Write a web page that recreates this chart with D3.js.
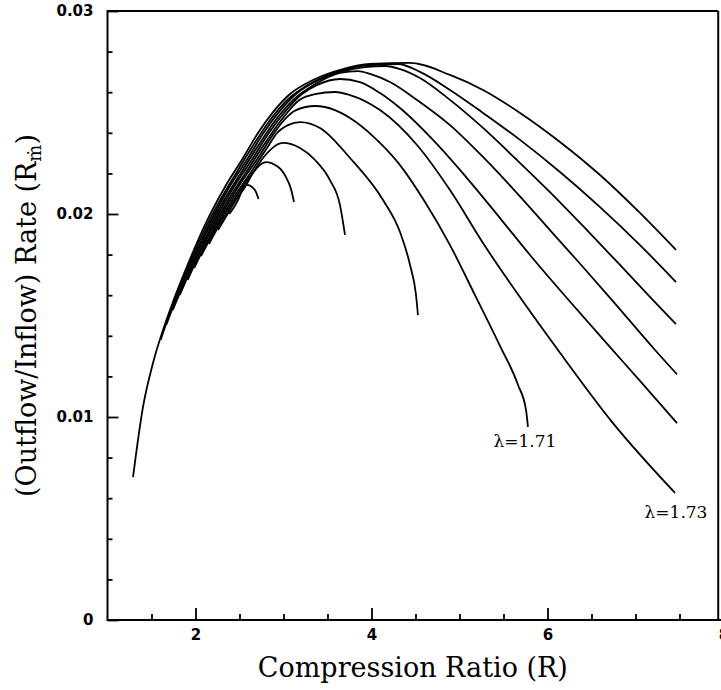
<!DOCTYPE html>
<meta charset="utf-8">
<style>

body{
  margin: 0;
  background: #fff;
}
.axis text {
  font-family: "DejaVu Sans", sans-serif;
  font-weight: bold;
  font-size: 15px;
  fill: #000;
}
.axis line {
  stroke: #000;
  stroke-width: 1.8px;
}
.frame line {
  stroke: #000;
  stroke-width: 2px;
}
.curves path {
  fill: none;
  stroke: #000;
  stroke-width: 1.8px;
}
.title {
  font-family: "DejaVu Serif", serif;
  font-size: 27px;
  fill: #000;
}
.lam {
  font-family: "DejaVu Serif", serif;
  font-size: 17px;
  fill: #000;
}

</style>
<svg width="721" height="690"></svg>
<script src="https://d3js.org/d3.v7.min.js"></script>
<script>

// tick values
var xMajor = [2, 4, 6, 8];
var xMinor = [1.5, 2.5, 3, 3.5, 4.5, 5, 5.5, 6.5, 7, 7.5];
var yMajor = [0, 0.01, 0.02, 0.03];
var yMinor = [0.002, 0.004, 0.006, 0.008, 0.012, 0.014, 0.016, 0.018, 0.022, 0.024, 0.026, 0.028];
var xFrameEnd = 7.94;   // right edge of the scanned frame

// curves: [compression ratio R, outflow/inflow rate]
var curveA = [[2.385,.02000],[2.485,.02069],[2.540,.02128],[2.585,.02143],[2.642,.02133],[2.688,.02108],[2.716,.02074]];
var curveB = [[2.256,.01921],[2.364,.02000],[2.460,.02069],[2.563,.02133],[2.653,.02202],[2.801,.02256],[2.926,.02236],[3.028,.02182],[3.085,.02123],[3.119,.02059]];
var curveC = [[2.153,.01852],[2.238,.01921],[2.342,.02000],[2.440,.02069],[2.535,.02133],[2.674,.02217],[2.767,.02276],[2.847,.02315],[2.994,.02350],[3.188,.02325],[3.358,.02266],[3.528,.02167],[3.642,.02044],[3.699,.01897]];
var curveD = [[2.063,.01793],[2.219,.01921],[2.417,.02069],[2.647,.02217],[2.835,.02340],[2.926,.02399],[3.051,.02438],[3.188,.02453],[3.415,.02424],[3.756,.02276],[4.131,.02069],[4.324,.01911],[4.438,.01749],[4.506,.01601],[4.528,.01502]];
var curveE = [[1.985,.01734],[2.118,.01852],[2.300,.02000],[2.485,.02133],[2.710,.02276],[2.894,.02399],[3.007,.02463],[3.142,.02512],[3.358,.02532],[3.585,.02512],[3.756,.02473],[4.040,.02374],[4.324,.02241],[4.608,.02059],[4.892,.01847],[5.176,.01600],[5.460,.01350],[5.665,.01158],[5.756,.01034],[5.778,.00951]];
var curveF = [[1.911,.01675],[2.032,.01793],[2.180,.01921],[2.372,.02069],[2.592,.02217],[2.776,.02340],[2.975,.02463],[3.180,.02562],[3.358,.02591],[3.585,.02601],[3.756,.02586],[4.097,.02512],[4.517,.02340],[4.892,.02118],[5.267,.01857],[5.710,.01576],[6.119,.01330],[6.744,.00970],[7.449,.00626]];
var curveG = [[1.822,.01601],[1.956,.01734],[2.083,.01852],[2.258,.02000],[2.435,.02133],[2.653,.02276],[2.833,.02399],[3.013,.02502],[3.210,.02591],[3.378,.02635],[3.642,.02665],[3.869,.02650],[4.097,.02596],[4.324,.02522],[4.699,.02365],[5.085,.02177],[5.460,.01980],[5.801,.01798],[6.222,.01585],[6.688,.01355],[7.051,.01178],[7.472,.00970]];
var curveH = [[1.742,.01527],[1.884,.01675],[2.000,.01793],[2.141,.01921],[2.326,.02069],[2.538,.02217],[2.717,.02340],[2.911,.02463],[3.111,.02562],[3.344,.02635],[3.642,.02695],[3.847,.02704],[3.983,.02690],[4.210,.02650],[4.517,.02562],[4.892,.02438],[5.267,.02281],[5.653,.02103],[6.028,.01921],[6.403,.01739],[6.733,.01576],[7.222,.01330],[7.472,.01210]];
var curveI = [[1.667,.01453],[1.799,.01601],[1.926,.01734],[2.048,.01852],[2.216,.02000],[2.385,.02133],[2.597,.02276],[2.772,.02399],[2.947,.02502],[3.142,.02591],[3.403,.02660],[3.651,.02700],[3.926,.02724],[4.153,.02729],[4.324,.02714],[4.551,.02670],[4.892,.02562],[5.267,.02424],[5.653,.02266],[6.028,.02108],[6.403,.01941],[6.824,.01749],[7.199,.01576],[7.460,.01458]];
var curveJ = [[1.603,.01379],[1.722,.01527],[1.857,.01675],[1.968,.01793],[2.102,.01921],[2.281,.02069],[2.483,.02217],[2.658,.02340],[2.848,.02463],[3.043,.02562],[3.276,.02635],[3.617,.02700],[3.869,.02729],[4.301,.02739],[4.551,.02700],[4.892,.02611],[5.267,.02498],[5.688,.02365],[6.142,.02207],[6.597,.02034],[7.051,.01847],[7.460,.01665]];
var curveK = [[1.290,.00704],[1.403,.01049],[1.517,.01266],[1.631,.01429],[1.744,.01567],[1.938,.01778],[2.108,.01946],[2.335,.02133],[2.540,.02276],[2.710,.02399],[2.881,.02502],[3.074,.02591],[3.335,.02660],[3.676,.02714],[3.983,.02739],[4.438,.02744],[4.892,.02685],[5.267,.02611],[5.688,.02498],[6.142,.02355],[6.597,.02192],[7.051,.02005],[7.460,.01823]];

var curves = [curveA, curveB, curveC, curveD, curveE, curveF, curveG, curveH, curveI, curveJ, curveK];

var lambdaLabels = [
  {text: "\u03bb=1.71", curve: curveE, dx: -3, dy: 20},
  {text: "\u03bb=1.73", curve: curveF, dx: 1, dy: 25}
];

var svg = d3.select("svg"),
    width = +svg.attr("width"),
    height = +svg.attr("height");

var x = d3.scaleLinear().domain([1, 8]).range([107.5, 723.5]);
var y = d3.scaleLinear().domain([0, 0.03]).range([620, 11]);

// minor + major ticks, pointing inward
svg.append("g")
    .attr("class", "axis")
    .attr("transform", "translate(0," + y(0) + ")")
    .call(d3.axisBottom(x).tickValues(xMinor).tickSize(-6).tickFormat(""))
    .call(function(g) { g.select(".domain").remove(); });

svg.append("g")
    .attr("class", "axis")
    .attr("transform", "translate(0," + y(0) + ")")
    .call(d3.axisBottom(x).tickValues(xMajor).tickSize(-12).tickPadding(9).tickFormat(d3.format("d")))
    .call(function(g) { g.select(".domain").remove(); });

svg.append("g")
    .attr("class", "axis")
    .attr("transform", "translate(" + x(1) + ",0)")
    .call(d3.axisLeft(y).tickValues(yMinor).tickSize(-5).tickFormat(""))
    .call(function(g) { g.select(".domain").remove(); });

svg.append("g")
    .attr("class", "axis")
    .attr("transform", "translate(" + x(1) + ",0)")
    .call(d3.axisLeft(y).tickValues(yMajor).tickSize(-11).tickPadding(14)
      .tickFormat(function(d) { return d === 0 ? "0" : d3.format(".2f")(d); }))
    .call(function(g) { g.select(".domain").remove(); });

// frame
var frame = svg.append("g").attr("class", "frame");
frame.append("line").attr("x1", x(1)).attr("x2", x(1)).attr("y1", y(0) + 1).attr("y2", y(0.03) - 1);
frame.append("line").attr("x1", x(1)).attr("x2", width).attr("y1", y(0)).attr("y2", y(0));
frame.append("line").attr("x1", x(1)).attr("x2", x(xFrameEnd)).attr("y1", y(0.03)).attr("y2", y(0.03));
frame.append("line").attr("x1", x(xFrameEnd)).attr("x2", x(xFrameEnd)).attr("y1", y(0.03)).attr("y2", y(0));

// curves
var line = d3.line()
    .x(function(d) { return x(d[0]); })
    .y(function(d) { return y(d[1]); })
    .curve(d3.curveMonotoneX);

svg.append("g")
    .attr("class", "curves")
  .selectAll("path")
    .data(curves)
  .enter().append("path")
    .attr("d", line);

// lambda labels at the curve ends
svg.selectAll(".lam")
    .data(lambdaLabels)
  .enter().append("text")
    .attr("class", "lam")
    .attr("text-anchor", "middle")
    .attr("x", function(d) { var p = d.curve[d.curve.length - 1]; return x(p[0]) + d.dx; })
    .attr("y", function(d) { var p = d.curve[d.curve.length - 1]; return y(p[1]) + d.dy; })
    .text(function(d) { return d.text; });

// axis titles
svg.append("text")
    .attr("class", "title")
    .attr("text-anchor", "middle")
    .attr("x", (x(1) + x(xFrameEnd)) / 2)
    .attr("y", 677)
    .text("Compression Ratio (R)");

var yt = svg.append("text")
    .attr("class", "title")
    .attr("text-anchor", "middle")
    .attr("transform", "translate(36," + (y(0) + y(0.03)) / 2 + ") rotate(-90)");
yt.append("tspan").text("(Outflow/Inflow) Rate (R");
yt.append("tspan").attr("font-size", "18px").attr("dy", 5).text("\u1e41");
yt.append("tspan").attr("dy", -5).text(")");

</script>
